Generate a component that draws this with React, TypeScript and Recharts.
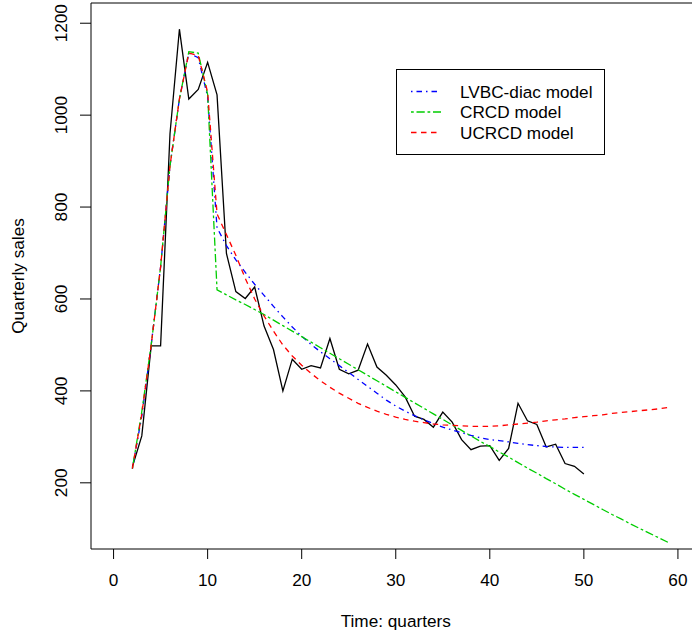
import React from "react";
import { LineChart, Line, XAxis, YAxis, Legend, ReferenceArea } from "recharts";

const FONT = '"Liberation Sans", Arial, Helvetica, sans-serif';
const FS = 17.2;

const quarters = [
  2, 3, 4, 5, 6, 7, 8, 9, 10, 11, 12, 13, 14, 15, 16, 17, 18, 19, 20, 21, 22, 23, 24, 25, 26, 27, 28, 29, 30,
  31, 32, 33, 34, 35, 36, 37, 38, 39, 40, 41, 42, 43, 44, 45, 46, 47, 48, 49, 50, 51, 52, 53, 54, 55, 56, 57,
  58, 59,
];

// observed sales, quarters 2..50
const actualSales = [
  235, 302, 498, 498, 960, 1187, 1035, 1056, 1115, 1044, 699, 616, 601, 626, 541, 490, 400, 469, 447, 455, 450,
  514, 447, 437, 445, 502, 452, 434, 413, 387, 345, 338, 321, 354, 332, 294, 272, 280, 281, 249, 275, 373, 335,
  327, 278, 284, 242, 236, 219,
];

// LVBC-diac fit, quarters 2..50
const lvbcFit = [
  231, 345, 500, 670, 890, 1035, 1135, 1125, 1040, 755, 716, 685, 658, 632, 608, 584, 561, 539, 519, 501, 485,
  470, 455, 440, 425, 410, 395, 380, 367, 356, 346, 337, 329, 321, 315, 309, 303, 298, 294, 292, 289, 286, 283,
  281, 279, 278, 277, 277, 277,
];

// CRCD fit, quarters 2..59
const crcdFit = [
  231, 355, 500, 670, 890, 1035, 1138, 1135, 1045, 620, 609, 598, 588, 577, 566, 554, 542, 530, 518, 506, 494,
  482, 470, 458, 446, 434, 422, 410, 398, 386, 374, 362, 350, 338, 326, 314, 302, 290, 279, 267, 256, 244, 232,
  221, 209, 198, 186, 175, 164, 153, 142, 131, 121, 110, 100, 90, 80, 70,
];

// UCRCD fit, quarters 2..59
const ucrcdFit = [
  231, 350, 500, 670, 890, 1035, 1135, 1130, 1050, 785, 740, 695, 645, 600, 563, 530, 500, 476, 456, 438, 422,
  408, 395, 384, 373, 364, 356, 349, 343, 338, 334, 331, 328, 326, 325, 324, 323, 323, 323, 324, 326, 328, 330,
  332, 335, 337, 339, 342, 344, 346, 348, 351, 353, 355, 357, 359, 361, 364,
];

const xTicks = [0, 10, 20, 30, 40, 50, 60];
const yTicks = [200, 400, 600, 800, 1000, 1200];

const seriesStyle: Record<string, { name: string; color: string; dash: string }> = {
  lvbc: { name: "LVBC-diac model", color: "#0000FF", dash: "1.5 4 5.5 4" },
  crcd: { name: "CRCD model", color: "#00CD00", dash: "2.75 2.75 8.25 2.75" },
  ucrcd: { name: "UCRCD model", color: "#FF0000", dash: "5.5 4.5" },
};
const legendKeys = ["lvbc", "crcd", "ucrcd"];

const data = quarters.map((q, i) => ({
  q,
  actual: actualSales[i],
  lvbc: lvbcFit[i],
  crcd: crcdFit[i],
  ucrcd: ucrcdFit[i],
}));

const YTick = (props: any) => {
  const { x, y, payload } = props;
  return (
    <text
      x={x}
      y={y}
      transform={`rotate(-90 ${x} ${y})`}
      textAnchor="middle"
      fontFamily={FONT}
      fontSize={FS}
      fill="#000"
    >
      {payload.value}
    </text>
  );
};

const LegendBox = () => (
  <div
    style={{
      width: 209,
      height: 86,
      border: "1px solid #000",
      boxSizing: "border-box",
      background: "#fff",
    }}
  >
    <svg width={207} height={84} style={{ display: "block" }}>
      {legendKeys.map((k, i) => {
        const s = seriesStyle[k];
        const cy = 21.5 + i * 20.5;
        return (
          <g key={k}>
            <line x1={14} x2={44} y1={cy} y2={cy} stroke={s.color} strokeWidth={1.3} strokeDasharray={s.dash} />
            <text x={63} y={cy + 6} fontFamily={FONT} fontSize={FS} fill="#000">
              {s.name}
            </text>
          </g>
        );
      })}
    </svg>
  </div>
);

export default function App() {
  return (
    <div style={{ position: "absolute", left: 0, top: 0, width: 692, height: 636, overflow: "hidden", background: "#fff" }}>
      <LineChart width={720} height={636} data={data} margin={{ top: 3, right: 19.5, bottom: 0, left: 0 }}>
        <XAxis
          dataKey="q"
          type="number"
          domain={[-2.4, 62.4]}
          ticks={xTicks}
          interval={0}
          axisLine={false}
          tickLine={{ stroke: "#000" }}
          tickSize={10}
          tickMargin={15}
          height={87}
          tick={{ fill: "#000", fontSize: FS, fontFamily: FONT }}
          label={(p: any) => {
            const vb = p.viewBox;
            return (
              <text x={vb.x + vb.width / 2} y={627} textAnchor="middle" fontFamily={FONT} fontSize={FS} fill="#000">
                Time: quarters
              </text>
            );
          }}
        />
        <YAxis
          type="number"
          domain={[56, 1244]}
          ticks={yTicks}
          interval={0}
          width={91}
          axisLine={false}
          tickLine={{ stroke: "#000" }}
          tickSize={11}
          tickMargin={13}
          tick={<YTick />}
          label={(p: any) => {
            const vb = p.viewBox;
            const cy = vb.y + vb.height / 2;
            return (
              <text
                x={24}
                y={cy}
                transform={`rotate(-90 24 ${cy})`}
                textAnchor="middle"
                fontFamily={FONT}
                fontSize={FS}
                fill="#000"
              >
                Quarterly sales
              </text>
            );
          }}
        />
        <ReferenceArea x1={-2.4} x2={62.4} y1={56} y2={1244} fill="none" stroke="#000" strokeWidth={1} />
        <Line dataKey="actual" type="linear" stroke="#000" strokeWidth={1.3} dot={false} isAnimationActive={false} />
        {legendKeys.map((k) => (
          <Line
            key={k}
            dataKey={k}
            name={seriesStyle[k].name}
            type="linear"
            stroke={seriesStyle[k].color}
            strokeWidth={1.3}
            strokeDasharray={seriesStyle[k].dash}
            dot={false}
            isAnimationActive={false}
          />
        ))}
        <Legend
          layout="vertical"
          align="center"
          verticalAlign="middle"
          content={() => <LegendBox />}
          wrapperStyle={{ left: 396, top: 69, width: 209, height: 86 }}
        />
      </LineChart>
    </div>
  );
}
